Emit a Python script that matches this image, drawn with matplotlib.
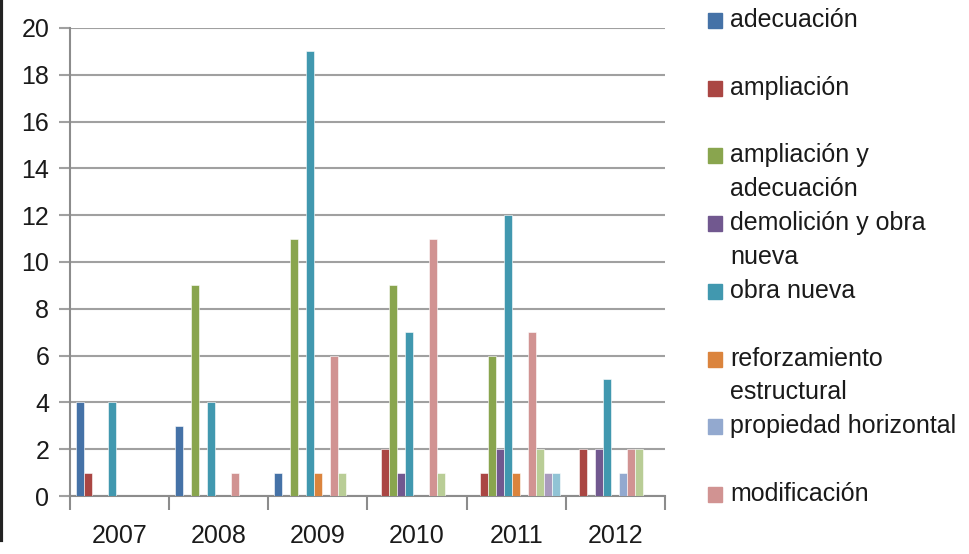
import matplotlib
matplotlib.use("Agg")
import matplotlib.pyplot as plt
from matplotlib.patches import Rectangle
from matplotlib.lines import Line2D
import numpy as np

plt.rcParams['font.family'] = ['Liberation Sans', 'DejaVu Sans']

years = ["2007", "2008", "2009", "2010", "2011", "2012"]
series_names = ["adecuación", "ampliación", "ampliación y adecuación",
                "demolición y obra nueva", "obra nueva", "reforzamiento estructural",
                "propiedad horizontal", "modificación", "serie 9", "serie 10", "serie 11"]
legend_labels = ["adecuación", "ampliación", "ampliación y\nadecuación",
                 "demolición y obra\nnueva", "obra nueva", "reforzamiento\nestructural",
                 "propiedad horizontal", "modificación"]

adecuacion        = [4, 3, 1, 0, 0, 0]
ampliacion        = [1, 0, 0, 2, 1, 2]
ampl_adecuacion   = [0, 9, 11, 9, 6, 0]
demolicion_obra   = [0, 0, 0, 1, 2, 2]
obra_nueva        = [4, 4, 19, 7, 12, 5]
reforzamiento     = [0, 0, 1, 0, 1, 0]
propiedad_horiz   = [0, 0, 0, 0, 0, 1]
modificacion      = [0, 1, 6, 11, 7, 2]
serie9            = [0, 0, 1, 1, 2, 2]
serie10           = [0, 0, 0, 0, 1, 0]
serie11           = [0, 0, 0, 0, 1, 0]

values = [adecuacion, ampliacion, ampl_adecuacion, demolicion_obra, obra_nueva,
          reforzamiento, propiedad_horiz, modificacion, serie9, serie10, serie11]
colors = ["#4572A7", "#AA4643", "#89A54E", "#71588F", "#4198AF", "#DB843D",
          "#93A9CF", "#D19392", "#B9CD96", "#A99BBD", "#91C3D5"]

W, H = 970, 554
fig = plt.figure(figsize=(W/100, H/100), dpi=100)
fig.patch.set_facecolor("white")
ax = fig.add_axes([70/W, 1-496/H, (665-70)/W, (496-28)/H])

n = len(values)
bw = 8/99
x = np.arange(len(years))
for i, (vals, c, name) in enumerate(zip(values, colors, series_names)):
    ax.bar(x + (i - (n-1)/2)*bw, vals, width=bw, color=c, label=name,
           edgecolor="white", linewidth=0.4, zorder=3)

ax.set_xlim(-0.5, len(years)-0.5)
ax.set_ylim(0, 20)
ax.set_yticks(range(0, 21, 2))
ax.yaxis.grid(True, color="#A0A0A0", linewidth=1.5, zorder=0)
ax.set_axisbelow(True)
for s in ["top", "right"]:
    ax.spines[s].set_visible(False)
for s in ["left", "bottom"]:
    ax.spines[s].set_color("#8C8C8C")
    ax.spines[s].set_linewidth(1.5)
ax.tick_params(axis="y", length=8, width=1.5, color="#A0A0A0", labelsize=18, pad=7,
               labelcolor="#1a1a1a")
ax.set_xticks(np.arange(-0.5, len(years), 1.0))
ax.set_xticklabels([])
ax.tick_params(axis="x", which="major", length=10, width=1.5, color="#8C8C8C")
ax.set_xticks(x, minor=True)
ax.set_xticklabels(years, minor=True)
ax.tick_params(axis="x", which="minor", length=0, labelsize=18, pad=20,
               labelcolor="#1a1a1a")

# legend (manual, as in the original)
for i, lab in enumerate(legend_labels):
    ytop = 8 + i*67.7
    fig.patches.append(Rectangle((708/W, 1-(ytop+20)/H), 14/W, 15/H,
                                 transform=fig.transFigure, color=colors[i]))
    fig.text(730/W, 1-(ytop)/H, lab, fontsize=18, va="top", ha="left",
             linespacing=1.5, color="#1a1a1a")

# dark left border
fig.lines.append(Line2D([1.5/W, 1.5/W], [1-540/H, 1], transform=fig.transFigure,
                        color="#222222", linewidth=3))

fig.savefig("out.png", dpi=100)
